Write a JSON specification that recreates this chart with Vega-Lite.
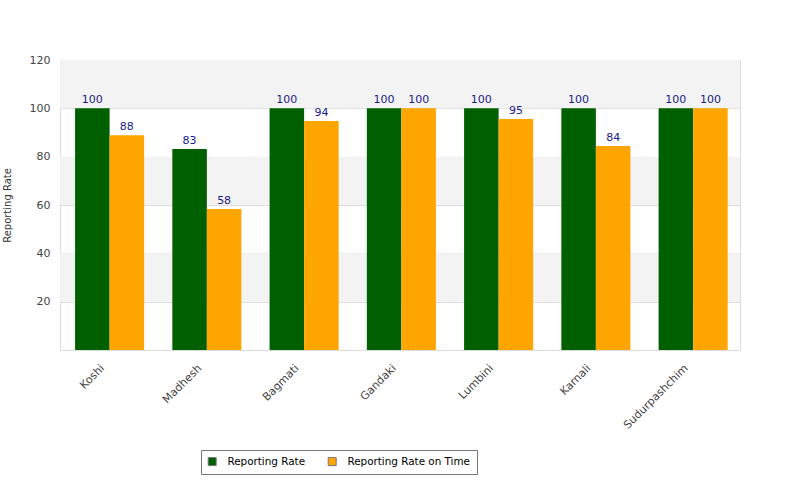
{
  "$schema": "https://vega.github.io/schema/vega-lite/v6.json",
  "width": 680,
  "height": 290,
  "autosize": "none",
  "padding": {"left": 60, "top": 60, "right": 60, "bottom": 150},
  "background": "white",
  "config": {
    "font": "DejaVu Sans",
    "view": {"stroke": "#dddddd", "strokeWidth": 1}
  },
  "datasets": {
    "bars": [
      {"province": "Koshi", "series": "Reporting Rate", "value": 100, "label": "100"},
      {"province": "Koshi", "series": "Reporting Rate on Time", "value": 88.9, "label": "88"},
      {"province": "Madhesh", "series": "Reporting Rate", "value": 83.2, "label": "83"},
      {"province": "Madhesh", "series": "Reporting Rate on Time", "value": 58.3, "label": "58"},
      {"province": "Bagmati", "series": "Reporting Rate", "value": 100, "label": "100"},
      {"province": "Bagmati", "series": "Reporting Rate on Time", "value": 94.8, "label": "94"},
      {"province": "Gandaki", "series": "Reporting Rate", "value": 100, "label": "100"},
      {"province": "Gandaki", "series": "Reporting Rate on Time", "value": 100, "label": "100"},
      {"province": "Lumbini", "series": "Reporting Rate", "value": 100, "label": "100"},
      {"province": "Lumbini", "series": "Reporting Rate on Time", "value": 95.6, "label": "95"},
      {"province": "Karnali", "series": "Reporting Rate", "value": 100, "label": "100"},
      {"province": "Karnali", "series": "Reporting Rate on Time", "value": 84.4, "label": "84"},
      {"province": "Sudurpashchim", "series": "Reporting Rate", "value": 100, "label": "100"},
      {"province": "Sudurpashchim", "series": "Reporting Rate on Time", "value": 100, "label": "100"}
    ],
    "bands": [
      {"from": 100, "to": 120},
      {"from": 60, "to": 80},
      {"from": 20, "to": 40}
    ]
  },
  "layer": [
    {
      "data": {"name": "bands"},
      "mark": {"type": "rect", "color": "#f3f3f3"},
      "encoding": {
        "y": {"field": "from", "type": "quantitative", "scale": {"domain": [0, 120]}},
        "y2": {"field": "to"}
      }
    },
    {
      "data": {"name": "bars"},
      "encoding": {
        "x": {
          "field": "province",
          "type": "nominal",
          "sort": null,
          "scale": {"paddingInner": 0.29, "paddingOuter": 0.141, "align": 0.55},
          "axis": {
            "title": null,
            "labelAngle": -45,
            "labelFontSize": 11,
            "labelColor": "#444444",
            "ticks": false,
            "domain": false,
            "labelPadding": 12,
            "labelOffset": -11
          }
        },
        "xOffset": {"field": "series", "type": "nominal", "sort": ["Reporting Rate", "Reporting Rate on Time"]},
        "y": {
          "field": "value",
          "type": "quantitative",
          "scale": {"domain": [0, 120], "nice": false},
          "axis": {
            "title": "Reporting Rate",
            "titleFontSize": 10,
            "titleFontWeight": "normal",
            "titleColor": "#333333",
            "titlePadding": 17,
            "values": [20, 40, 60, 80, 100, 120],
            "labelFontSize": 11,
            "labelColor": "#444444",
            "ticks": false,
            "domain": false,
            "labelPadding": 10,
            "gridColor": "#dddddd",
            "grid": true
          }
        }
      },
      "layer": [
        {
          "mark": {"type": "bar"},
          "encoding": {
            "color": {
              "field": "series",
              "type": "nominal",
              "sort": ["Reporting Rate", "Reporting Rate on Time"],
              "scale": {"domain": ["Reporting Rate", "Reporting Rate on Time"], "range": ["#006000", "#ffa500"]},
              "legend": {
                "title": null,
                "orient": "none",
                "direction": "horizontal",
                "legendX": 141,
                "legendY": 390,
                "symbolType": "square",
                "symbolSize": 64,
                "symbolStrokeColor": "#777777",
                "symbolStrokeWidth": 1,
                "labelFontSize": 10.4,
                "labelColor": "#000000",
                "strokeColor": "#777777",
                "padding": 6,
                "columnPadding": 20,
                "labelOffset": 10,
                "fillColor": "white"
              }
            }
          }
        },
        {
          "mark": {"type": "text", "dy": -8, "fontSize": 11, "color": "#1a1a8c"},
          "encoding": {
            "text": {"field": "label", "type": "nominal"}
          }
        }
      ]
    }
  ]
}
